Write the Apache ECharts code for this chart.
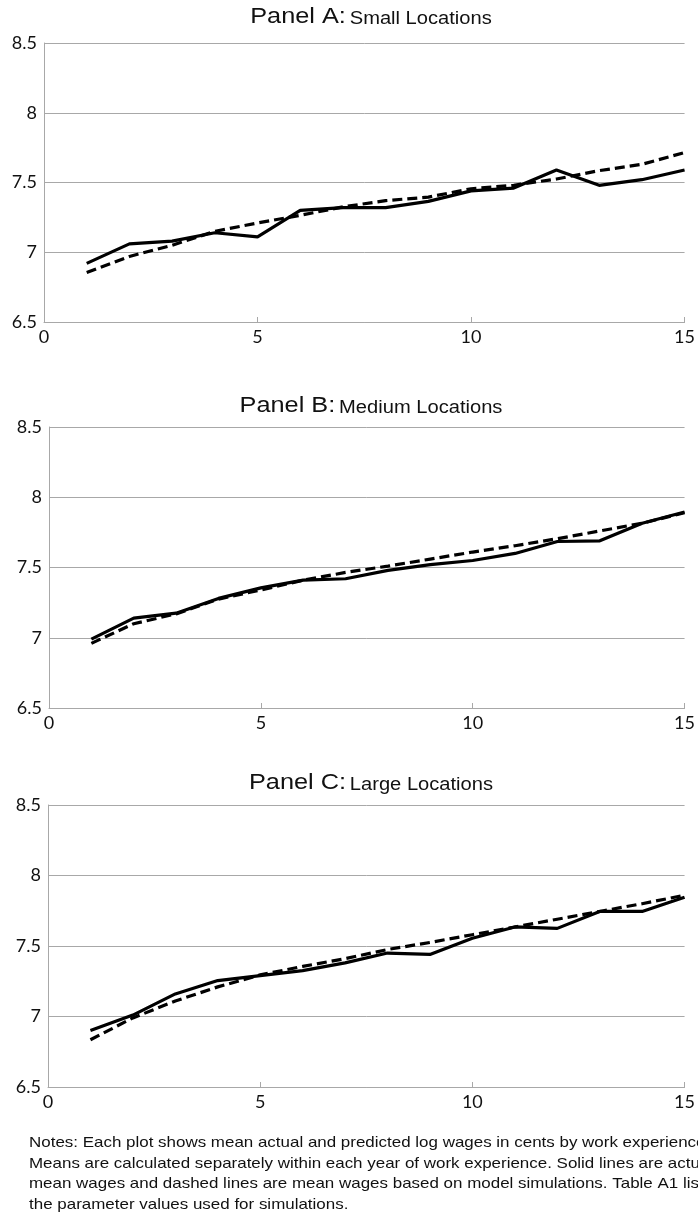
<!DOCTYPE html>
<html>
<head>
<meta charset="utf-8">
<script src="https://cdn.jsdelivr.net/npm/echarts@6/dist/echarts.min.js"></script>
<style>
html,body{margin:0;padding:0;background:#fff;}
#chart{width:698px;height:1218px;}
</style>
</head>
<body>
<div id="chart"></div>
<script>
// ---- data ----
const experience = [1,2,3,4,5,6,7,8,9,10,11,12,13,14,15];
const panelTitles = ['Panel A:', 'Panel B:', 'Panel C:'];
const panelSubtitles = ['Small Locations', 'Medium Locations', 'Large Locations'];
const smallActual    = [6.92,7.06,7.08,7.14,7.11,7.30,7.32,7.32,7.365,7.44,7.46,7.59,7.48,7.52,7.59];
const smallPredicted = [6.855,6.97,7.05,7.15,7.21,7.265,7.325,7.37,7.395,7.455,7.48,7.525,7.585,7.63,7.715];
const mediumActual    = [6.99,7.14,7.175,7.28,7.355,7.41,7.42,7.48,7.52,7.55,7.60,7.685,7.69,7.815,7.895];
const mediumPredicted = [6.96,7.10,7.17,7.275,7.34,7.41,7.465,7.51,7.56,7.61,7.655,7.705,7.76,7.815,7.89];
const largeActual    = [6.90,7.01,7.16,7.255,7.29,7.325,7.38,7.45,7.44,7.555,7.635,7.625,7.745,7.745,7.845];
const largePredicted = [6.835,6.99,7.11,7.21,7.295,7.355,7.41,7.475,7.525,7.58,7.635,7.69,7.745,7.80,7.86];
const yTicks = [6.5, 7, 7.5, 8, 8.5];
const xTicks = [0, 5, 10, 15];
const notesLines = [
  'Notes: Each plot shows mean actual and predicted log wages in cents by work experience.',
  'Means are calculated separately within each year of work experience. Solid lines are actual',
  'mean wages and dashed lines are mean wages based on model simulations. Table A1 lists',
  'the parameter values used for simulations.'
];

// ---- layout ----
const grids = [
  {left: 44, top: 43, width: 642, height: 279},
  {left: 49, top: 427, width: 639, height: 281},
  {left: 48, top: 805, width: 640, height: 282}
];
const titleCenters = [17, 406, 783];
const actuals = [smallActual, mediumActual, largeActual];
const predicteds = [smallPredicted, mediumPredicted, largePredicted];

const chart = echarts.init(document.getElementById('chart'), null, {renderer: 'canvas'});
const axisGray = '#a8a8a8';
const labelFont = 'Lato, "Open Sans", sans-serif';
const textFont = '"Liberation Sans", Arial, sans-serif';

const option = {
  backgroundColor: '#fff',
  animation: false,
  grid: grids,
  xAxis: grids.map((g, i) => ({
    type: 'value', gridIndex: i, min: 0, max: 15, interval: 5,
    axisLine: {show: true, lineStyle: {color: axisGray, width: 1}},
    axisTick: {show: true, inside: true, length: 5, lineStyle: {color: axisGray}},
    splitLine: {show: false},
    axisLabel: {color: '#111', fontSize: 18, fontFamily: labelFont, margin: 6,
      formatter: v => xTicks.includes(v) ? String(v) : ''}
  })),
  yAxis: grids.map((g, i) => ({
    type: 'value', gridIndex: i, min: yTicks[0], max: yTicks[yTicks.length-1], interval: 0.5,
    axisLine: {show: true, lineStyle: {color: axisGray, width: 1}},
    axisTick: {show: false},
    splitLine: {show: true, lineStyle: {color: axisGray, width: 1}},
    axisLabel: {color: '#111', fontSize: 18, fontFamily: labelFont, margin: 7,
      formatter: v => String(v)}
  })),
  series: []
};

for (let i = 0; i < 3; i++) {
  option.series.push({
    type: 'line', xAxisIndex: i, yAxisIndex: i, symbol: 'none',
    data: experience.map((x, k) => [x, predicteds[i][k]]),
    lineStyle: {color: '#000', width: 3.2, type: [10, 5]},
    z: 3
  });
  option.series.push({
    type: 'line', xAxisIndex: i, yAxisIndex: i, symbol: 'none',
    data: experience.map((x, k) => [x, actuals[i][k]]),
    lineStyle: {color: '#000', width: 3.2},
    z: 4
  });
}

option.graphic = panelTitles.map((t, i) => ({
  type: 'text', x: 371, y: titleCenters[i], scaleX: 1.15,
  style: {
    text: '{a|' + t + '} {b|' + panelSubtitles[i] + '}',
    align: 'center', verticalAlign: 'middle', fill: '#111',
    rich: {
      a: {font: '22px ' + textFont, fill: '#111', verticalAlign: 'bottom'},
      b: {font: '17.5px ' + textFont, fill: '#111', verticalAlign: 'bottom'}
    }
  }
})).concat([{
  type: 'text', x: 29, y: 1133, scaleX: 1.13,
  style: {
    text: notesLines.join('\n'),
    font: '15px ' + textFont,
    fill: '#111', lineHeight: 20.5, align: 'left', verticalAlign: 'top'
  }
}]);

chart.setOption(option);
</script>
</body>
</html>
